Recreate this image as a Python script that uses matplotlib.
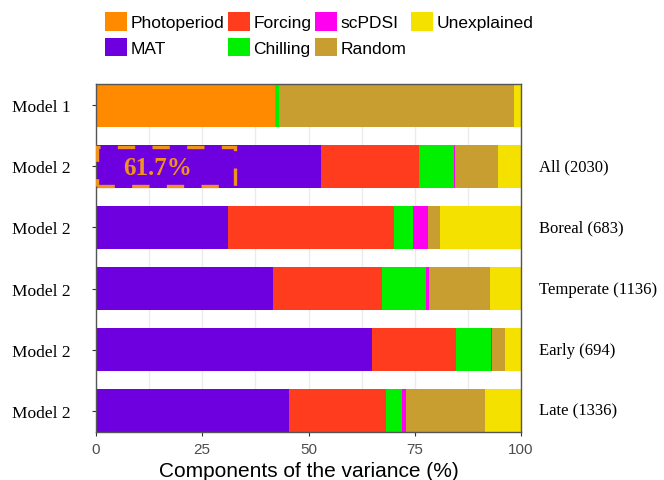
import matplotlib
matplotlib.use("Agg")
import matplotlib.pyplot as plt
from matplotlib.patches import Rectangle, Patch
import matplotlib.transforms as mtransforms
import numpy as np

left_labels = ["Model 1", "Model 2", "Model 2", "Model 2", "Model 2", "Model 2"]
right_labels = ["", "All (2030)", "Boreal (683)", "Temperate (1136)", "Early (694)", "Late (1336)"]

components = ["Photoperiod", "MAT", "Forcing", "Chilling", "scPDSI", "Random", "Unexplained"]
colors = {
    "Photoperiod": "#FF8A00",
    "MAT": "#6E00E0",
    "Forcing": "#FF3C1E",
    "Chilling": "#00F000",
    "scPDSI": "#FF00F0",
    "Random": "#C89E30",
    "Unexplained": "#F5E100",
}

photoperiod = [42.0, 0, 0, 0, 0, 0]
mat         = [0, 52.9, 31.1, 41.6, 65.0, 45.5]
forcing     = [0, 23.0, 38.9, 25.7, 19.8, 22.8]
chilling    = [1.0, 8.4, 4.6, 10.4, 8.2, 3.6]
scpdsi      = [0, 0.2, 3.5, 0.7, 0.2, 1.1]
random_     = [55.3, 10.2, 2.8, 14.2, 3.0, 18.6]
unexplained = [1.7, 5.3, 19.1, 7.4, 3.8, 8.4]

series = {
    "Photoperiod": photoperiod,
    "MAT": mat,
    "Forcing": forcing,
    "Chilling": chilling,
    "scPDSI": scpdsi,
    "Random": random_,
    "Unexplained": unexplained,
}

highlight_value = 61.7
highlight_width = 32.4

fig = plt.figure(figsize=(6.64, 4.81), dpi=100)
ax = fig.add_axes([96/664, 1-433/481, 425/664, 348/481])

n = len(left_labels)
ypos = np.arange(n)[::-1]
left = np.zeros(n)
for comp in components:
    vals = np.array(series[comp])
    ax.barh(ypos, vals, left=left, height=0.7, color=colors[comp], edgecolor="none", zorder=2)
    left += vals

ax.set_xlim(0, 100)
ax.set_ylim(-0.35, n - 1 + 0.35)
ax.set_xticks([0, 25, 50, 75, 100])
ax.set_xticklabels(["0", "25", "50", "75", "100"], fontfamily="Liberation Sans")
ax.set_xticks([12.5, 37.5, 62.5, 87.5], minor=True)
ax.grid(axis="x", which="both", color="#EBEBEB", linewidth=1.0, zorder=0)
ax.tick_params(axis="x", which="minor", length=0)
ax.tick_params(axis="x", which="major", labelsize=11, labelcolor="#4D4D4D", color="#333333", length=3, pad=4)
ax.set_yticks(ypos)
ax.set_yticklabels(left_labels, fontfamily="Liberation Serif", fontsize=12.5)
ax.tick_params(axis="y", length=3, color="#333333", pad=15)
ax.set_xlabel("Components of the variance (%)", fontsize=15, fontfamily="Liberation Sans", labelpad=4)
for s in ax.spines.values():
    s.set_color("#555555")
    s.set_linewidth(1.0)

trans = mtransforms.blended_transform_factory(ax.transAxes, ax.transData)
for y, lab in zip(ypos, right_labels):
    if lab:
        ax.text(1.042, y, lab, transform=trans, ha="left", va="center",
                fontfamily="Liberation Serif", fontsize=12, clip_on=False)

# highlight box on the "All" bar
yall = ypos[1]
rect = Rectangle((0.3, yall - 0.32), highlight_width, 0.64, fill=False,
                 edgecolor="#F0921E", linewidth=2.4, linestyle=(0, (5.2, 5.2)), zorder=3)
ax.add_patch(rect)
ax.text(highlight_width / 2 - 1.6, yall - 0.02, f"{highlight_value}%", ha="center", va="center",
        fontfamily="Liberation Serif", fontweight="bold", fontsize=18, color="#F0921E", zorder=4)

order = ["Photoperiod", "MAT", "Forcing", "Chilling", "scPDSI", "Random", "Unexplained"]
handles = [Patch(facecolor=colors[c], edgecolor="none", label=c) for c in order]
fig.legend(handles=handles, ncol=4, loc="upper left", bbox_to_anchor=(105/664, 1-13/481),
           frameon=False, prop={"family": "Liberation Sans", "size": 12.5},
           handlelength=1.27, handleheight=1.27,
           handletextpad=0.2, columnspacing=0.22, labelspacing=0.42,
           borderaxespad=0, borderpad=0)

fig.savefig("out.png", dpi=100)
